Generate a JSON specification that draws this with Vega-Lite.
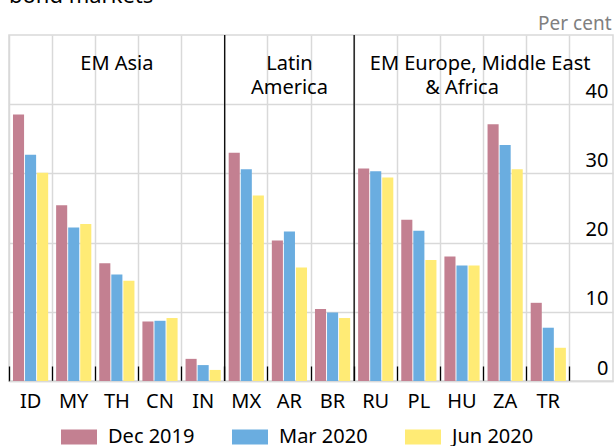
{
  "$schema": "https://vega.github.io/schema/vega-lite/v6.json",
  "width": 604,
  "height": 346,
  "autosize": "none",
  "padding": {"left": 9, "top": 35, "right": 1, "bottom": 65},
  "background": "white",
  "config": {
    "font": "Noto Sans",
    "view": {"stroke": "#d9d9d9", "strokeWidth": 1.5}
  },
  "resolve": {"axis": {"x": "independent", "y": "independent"}},
  "datasets": {
    "bars": [
      {"country": "ID", "period": "Dec 2019", "value": 38.5},
      {"country": "ID", "period": "Mar 2020", "value": 32.7},
      {"country": "ID", "period": "Jun 2020", "value": 30.1},
      {"country": "MY", "period": "Dec 2019", "value": 25.4},
      {"country": "MY", "period": "Mar 2020", "value": 22.2},
      {"country": "MY", "period": "Jun 2020", "value": 22.7},
      {"country": "TH", "period": "Dec 2019", "value": 17.0},
      {"country": "TH", "period": "Mar 2020", "value": 15.4},
      {"country": "TH", "period": "Jun 2020", "value": 14.5},
      {"country": "CN", "period": "Dec 2019", "value": 8.6},
      {"country": "CN", "period": "Mar 2020", "value": 8.7},
      {"country": "CN", "period": "Jun 2020", "value": 9.1},
      {"country": "IN", "period": "Dec 2019", "value": 3.2},
      {"country": "IN", "period": "Mar 2020", "value": 2.3},
      {"country": "IN", "period": "Jun 2020", "value": 1.6},
      {"country": "MX", "period": "Dec 2019", "value": 33.0},
      {"country": "MX", "period": "Mar 2020", "value": 30.6},
      {"country": "MX", "period": "Jun 2020", "value": 26.8},
      {"country": "AR", "period": "Dec 2019", "value": 20.3},
      {"country": "AR", "period": "Mar 2020", "value": 21.6},
      {"country": "AR", "period": "Jun 2020", "value": 16.4},
      {"country": "BR", "period": "Dec 2019", "value": 10.4},
      {"country": "BR", "period": "Mar 2020", "value": 9.9},
      {"country": "BR", "period": "Jun 2020", "value": 9.1},
      {"country": "RU", "period": "Dec 2019", "value": 30.7},
      {"country": "RU", "period": "Mar 2020", "value": 30.3},
      {"country": "RU", "period": "Jun 2020", "value": 29.4},
      {"country": "PL", "period": "Dec 2019", "value": 23.3},
      {"country": "PL", "period": "Mar 2020", "value": 21.7},
      {"country": "PL", "period": "Jun 2020", "value": 17.5},
      {"country": "HU", "period": "Dec 2019", "value": 18.0},
      {"country": "HU", "period": "Mar 2020", "value": 16.7},
      {"country": "HU", "period": "Jun 2020", "value": 16.7},
      {"country": "ZA", "period": "Dec 2019", "value": 37.1},
      {"country": "ZA", "period": "Mar 2020", "value": 34.1},
      {"country": "ZA", "period": "Jun 2020", "value": 30.6},
      {"country": "TR", "period": "Dec 2019", "value": 11.3},
      {"country": "TR", "period": "Mar 2020", "value": 7.7},
      {"country": "TR", "period": "Jun 2020", "value": 4.8}
    ],
    "seps": [{"country": "MX"}, {"country": "RU"}],
    "groups": [
      {"label": ["EM Asia"], "country": "TH"},
      {"label": ["Latin", "America"], "country": "AR"},
      {"label": ["", "& Africa"], "country": "HU"}
    ],
    "groups2": [
      {"label": "EM Europe, Middle East", "country": "HU"}
    ],
    "heading": [
      {"label": "bond markets", "country": "ID"}
    ]
  },
  "layer": [
    {
      "data": {"name": "bars"},
      "mark": {"type": "bar"},
      "encoding": {
        "x": {
          "field": "country",
          "type": "nominal",
          "sort": null,
          "scale": {
            "domain": ["ID", "MY", "TH", "CN", "IN", "MX", "AR", "BR", "RU", "PL", "HU", "ZA", "TR", " "],
            "paddingInner": 0,
            "paddingOuter": 0
          },
          "axis": {
            "title": null,
            "orient": "bottom",
            "bandPosition": 0,
            "grid": true,
            "gridColor": "#d9d9d9",
            "gridWidth": 1.5,
            "domainColor": "#d9d9d9",
            "domainWidth": 1.5,
            "ticks": true,
            "tickColor": "black",
            "tickWidth": 1.3,
            "tickSize": -15,
            "labelFontSize": 20,
            "labelColor": "black",
            "labelPadding": 25,
            "labelAngle": 0
          }
        },
        "xOffset": {
          "field": "period",
          "type": "nominal",
          "scale": {"domain": ["Dec 2019", "Mar 2020", "Jun 2020"], "paddingInner": 0.08, "paddingOuter": 0.33}
        },
        "y": {
          "field": "value",
          "type": "quantitative",
          "scale": {"domain": [0, 50], "nice": false, "zero": true},
          "axis": {
            "orient": "right",
            "title": "Per cent",
            "titleAngle": 0,
            "titleX": -2,
            "titleY": -6,
            "titleAlign": "right",
            "titleBaseline": "alphabetic",
            "titleColor": "#808080",
            "titleFontSize": 19,
            "titleFontWeight": "normal",
            "values": [0, 10, 20, 30, 40],
            "grid": true,
            "gridColor": "#d9d9d9",
            "gridWidth": 1.5,
            "domain": false,
            "ticks": false,
            "labelAlign": "right",
            "labelBaseline": "alphabetic",
            "labelOffset": -7,
            "labelPadding": -5,
            "labelFlush": false,
            "labelFontSize": 20,
            "labelColor": "black"
          }
        },
        "color": {
          "field": "period",
          "type": "nominal",
          "scale": {"domain": ["Dec 2019", "Mar 2020", "Jun 2020"], "range": ["#c38091", "#6aade0", "#ffeb75"]},
          "legend": {
            "orient": "none",
            "legendX": 52,
            "legendY": 392,
            "direction": "horizontal",
            "title": null,
            "padding": 0,
            "symbolType": "M-1,-0.75H2.6V0.75H-1Z",
            "symbolSize": 400,
            "symbolStrokeWidth": 0,
            "symbolOpacity": 1,
            "labelFontSize": 20,
            "labelColor": "black",
            "labelOffset": 27,
            "columnPadding": 37
          }
        }
      }
    },
    {
      "data": {"name": "seps"},
      "mark": {"type": "rule", "color": "black", "strokeWidth": 1.3},
      "encoding": {
        "x": {"field": "country", "type": "nominal", "bandPosition": 0, "axis": null}
      }
    },
    {
      "data": {"name": "groups"},
      "mark": {"type": "text", "fontSize": 20, "lineHeight": 24, "baseline": "alphabetic", "align": "center", "color": "black"},
      "encoding": {
        "x": {"field": "country", "type": "nominal", "axis": null},
        "y": {"datum": 45, "type": "quantitative", "axis": null},
        "text": {"field": "label"}
      }
    },
    {
      "data": {"name": "groups2"},
      "mark": {"type": "text", "fontSize": 20, "baseline": "alphabetic", "align": "center", "color": "black"},
      "encoding": {
        "x": {"field": "country", "type": "nominal", "bandPosition": 0.92, "axis": null},
        "y": {"datum": 45, "type": "quantitative", "axis": null},
        "text": {"field": "label"}
      }
    },
    {
      "data": {"name": "heading"},
      "mark": {"type": "text", "fontSize": 22, "baseline": "alphabetic", "align": "left", "color": "black"},
      "encoding": {
        "x": {"field": "country", "type": "nominal", "bandPosition": 0, "axis": null},
        "y": {"datum": 54.6, "type": "quantitative", "axis": null},
        "text": {"field": "label"}
      }
    }
  ]
}
